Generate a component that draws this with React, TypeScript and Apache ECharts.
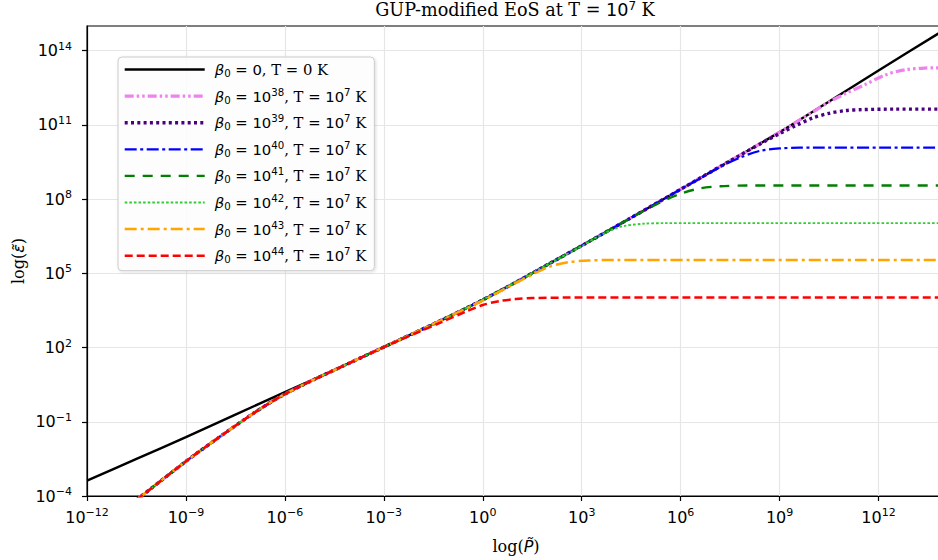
import React, { useEffect, useRef } from "react";
import * as echarts from "echarts";

// ---- axes (log10 exponents) ----
const xTickExps = [-12, -9, -6, -3, 0, 3, 6, 9, 12];
const yTickExps = [-4, -1, 2, 5, 8, 11, 14];
const xMin = -12;
const xMax = 14;
const yMin = -4;
const yMax = 15;

// ---- beta0 = 0, T = 0 K : log10(P~), log10(eps~) ----
const blackLogP = [-12, -10.5, -9, -7.5, -6, -4.5, -3, -2, -1, 0, 1, 2, 3, 4.5, 6, 7.5, 9, 10.5, 12, 14];
const blackLogE = [-3.38, -2.5, -1.62, -0.71, 0.2, 1.1, 2.02, 2.64, 3.27, 3.93, 4.64, 5.38, 6.12, 7.25, 8.4, 9.55, 10.71, 11.95, 13.2, 14.85];

// ---- common low-pressure branch of all GUP curves (T = 1e7 K) ----
const gupLowLogP = [-10.5, -9, -8, -7, -6.5, -6, -5.5, -5, -4];
const gupLowLogE = [-4.16, -2.6, -1.63, -0.7, -0.27, 0.12, 0.46, 0.78, 1.4];

// ---- GUP curves ----
const betaExps = [38, 39, 40, 41, 42, 43, 44];
// last point of the beta0=0 curve that each GUP curve still follows
const joinLogP = [9, 7.5, 6, 4.5, 2, -1, -3];

const beta38LogP = [10, 10.5, 11, 11.6, 12.2, 12.8, 13.4, 14];
const beta38LogE = [11.52, 11.93, 12.27, 12.64, 13.02, 13.23, 13.3, 13.31];
const beta39LogP = [8.5, 9.0, 9.5, 10, 10.5, 11, 11.5, 12.5, 14];
const beta39LogE = [10.3, 10.65, 10.98, 11.28, 11.47, 11.58, 11.62, 11.64, 11.64];
const beta40LogP = [6.6, 7.2, 7.8, 8.4, 9.0, 9.6, 14];
const beta40LogE = [8.84, 9.3, 9.68, 9.95, 10.05, 10.08, 10.08];
const beta41LogP = [5.4, 6.0, 6.6, 7.2, 8, 14];
const beta41LogE = [7.88, 8.22, 8.44, 8.52, 8.55, 8.55];
const beta42LogP = [3, 3.4, 3.7, 4, 4.3, 4.9, 5.5, 14];
const beta42LogE = [6.1, 6.42, 6.63, 6.8, 6.92, 7.01, 7.03, 7.03];
const beta43LogP = [0, 0.8, 1.4, 2, 2.6, 3.2, 4, 14];
const beta43LogE = [3.9, 4.47, 4.88, 5.26, 5.45, 5.52, 5.54, 5.54];
const beta44LogP = [-2, -1.3, -0.5, 0, 0.5, 1, 1.5, 2.5, 14];
const beta44LogE = [2.6, 3.0, 3.46, 3.72, 3.88, 3.96, 4.0, 4.02, 4.02];

const tailsP = [beta38LogP, beta39LogP, beta40LogP, beta41LogP, beta42LogP, beta43LogP, beta44LogP];
const tailsE = [beta38LogE, beta39LogE, beta40LogE, beta41LogE, beta42LogE, beta43LogE, beta44LogE];

// ---- styles (not data) ----
const lineStyles = [
  { color: "#000000", width: 2.4, type: "solid" as any },
  { color: "#EE82EE", width: 3.2, type: [9, 3, 2.5, 3, 2.5, 3] },
  { color: "#4B0082", width: 3.4, type: [3, 3.3] },
  { color: "#0000FF", width: 2.2, type: [12, 3.5, 3, 3.5] },
  { color: "#008000", width: 2.4, type: [10, 8] },
  { color: "#32CD32", width: 1.9, type: [2.6, 2] },
  { color: "#FFA500", width: 2.5, type: [12, 4, 3, 4] },
  { color: "#FF0000", width: 2.5, type: [8, 4] },
];

const SERIF = "DejaVu Serif";
const SANS = "DejaVu Sans";

const zip = (xs: number[], ys: number[]) => xs.map((x, i) => [x, ys[i]]);

function gupData(k: number) {
  const pts: number[][] = zip(gupLowLogP, gupLowLogE);
  blackLogP.forEach((p, i) => {
    if (p > gupLowLogP[gupLowLogP.length - 1] && p <= joinLogP[k]) pts.push([p, blackLogE[i]]);
  });
  return pts.concat(zip(tailsP[k], tailsE[k]));
}

const expStr = (v: number) => (v < 0 ? "\u2212" + Math.abs(v) : String(v));

const tickRich = {
  b: { fontFamily: SANS, fontSize: 16, lineHeight: 22, color: "#000" },
  e: { fontFamily: SANS, fontSize: 11, height: 13, verticalAlign: "top", color: "#000" },
};

const LF = 14.8;
const legendRich = {
  mi: { fontFamily: SANS, fontStyle: "italic", fontSize: LF, lineHeight: 20, color: "#000" },
  m: { fontFamily: SANS, fontSize: LF, lineHeight: 20, color: "#000" },
  s: { fontFamily: SERIF, fontSize: LF, lineHeight: 20, color: "#000" },
  sup: { fontFamily: SANS, fontSize: 10.2, height: 12, verticalAlign: "top", color: "#000" },
  sub: { fontFamily: SANS, fontSize: 10.2, height: 12, verticalAlign: "bottom", color: "#000" },
};

export default function App() {
  const ref = useRef<HTMLDivElement>(null);

  useEffect(() => {
    if (!ref.current) return;
    const chart = echarts.init(ref.current, undefined, { renderer: "svg" });

    const names = ["b0"].concat(betaExps.map((e) => "b" + e));
    const labels = ["{mi|β}{sub|0}{m| = 0}{s|, T = 0 K}"].concat(
      betaExps.map((e) => `{mi|β}{sub|0}{m| = 10}{sup|${e}}{s|, T = }{m|10}{sup|7}{s| K}`)
    );

    const allData = [zip(blackLogP, blackLogE)].concat(betaExps.map((_, k) => gupData(k)));

    const series = names.map((n, i) => ({
      name: n,
      type: "line",
      data: allData[i],
      showSymbol: false,
      symbol: "none",
      smooth: 0.3,
      clip: true,
      lineStyle: { color: lineStyles[i].color, width: lineStyles[i].width, type: lineStyles[i].type, cap: "butt" },
      itemStyle: { color: lineStyles[i].color },
      z: 2 + i * 0.01,
    }));

    const axisCommon = {
      type: "value",
      axisLine: { show: true, onZero: false, lineStyle: { color: "#000", width: 1.2 } },
      splitLine: { show: true, lineStyle: { color: "#e6e6e6", width: 1.2 } },
    };

    chart.setOption({
      animation: false,
      backgroundColor: "#ffffff",
      grid: {
        left: 87,
        top: 26,
        width: 857.5,
        height: 470,
        show: true,
        borderColor: "#000",
        borderWidth: 1.2,
        backgroundColor: "transparent",
      },
      xAxis: {
        ...axisCommon,
        min: xMin,
        max: xMax,
        axisTick: { show: true, customValues: xTickExps, length: 5, lineStyle: { color: "#000", width: 1.2 } },
        axisLabel: {
          customValues: xTickExps,
          margin: 10,
          formatter: (v: number) => `{b|10}{e|${expStr(Math.round(v))}}`,
          rich: tickRich,
        },
      },
      yAxis: {
        ...axisCommon,
        min: yMin,
        max: yMax,
        axisTick: { show: true, customValues: yTickExps, length: 5, lineStyle: { color: "#000", width: 1.2 } },
        axisLabel: {
          customValues: yTickExps,
          margin: 15,
          formatter: (v: number) => `{b|10}{e|${expStr(Math.round(v))}}`,
          rich: tickRich,
        },
      },
      legend: {
        orient: "vertical",
        left: 118,
        top: 57,
        itemWidth: 80,
        itemHeight: 14,
        itemGap: 8.6,
        padding: [5, 8, 6, 5],
        backgroundColor: "rgba(255,255,255,0.85)",
        borderColor: "#cccccc",
        borderWidth: 1,
        borderRadius: 4,
        shadowColor: "rgba(0,0,0,0.15)",
        shadowBlur: 3,
        shadowOffsetX: 1,
        shadowOffsetY: 1,
        selectedMode: false,
        itemStyle: { opacity: 0 },
        lineStyle: { width: "inherit" },
        textStyle: { padding: [0, 0, 0, 5], color: "#000", rich: legendRich },
        formatter: (name: string) => labels[names.indexOf(name)],
        data: names,
      },
      graphic: [
        {
          type: "text",
          x: 515,
          y: -1,
          style: {
            text: "{s|GUP-modified EoS at T = }{m|10}{p|7}{s| K}",
            align: "center",
            verticalAlign: "top",
            rich: {
              s: { fontFamily: SERIF, fontSize: 17.6, lineHeight: 22, fill: "#000", color: "#000" },
              m: { fontFamily: SANS, fontSize: 17.6, lineHeight: 22, fill: "#000", color: "#000" },
              p: { fontFamily: SANS, fontSize: 12, height: 14, verticalAlign: "top", fill: "#000", color: "#000" },
            },
          },
        },
        {
          type: "text",
          x: 516,
          y: 546,
          style: {
            text: "{s|log(}{i|P\u0303}{s|)}",
            align: "center",
            verticalAlign: "middle",
            rich: {
              s: { fontFamily: SERIF, fontSize: 16, lineHeight: 22, fill: "#000", color: "#000" },
              i: { fontFamily: SANS, fontStyle: "italic", fontSize: 16, lineHeight: 22, fill: "#000", color: "#000" },
            },
          },
        },
        {
          type: "text",
          x: 18,
          y: 261,
          rotation: Math.PI / 2,
          style: {
            text: "{s|log(}{i|\u03b5\u0303}{s|)}",
            align: "center",
            verticalAlign: "middle",
            rich: {
              s: { fontFamily: SERIF, fontSize: 16, lineHeight: 22, fill: "#000", color: "#000" },
              i: { fontFamily: SANS, fontStyle: "italic", fontSize: 16, lineHeight: 22, fill: "#000", color: "#000" },
            },
          },
        },
      ],
      series,
    });

    return () => chart.dispose();
  }, []);

  return (
    <div style={{ position: "fixed", left: 0, top: 0, width: 938, height: 560, overflow: "hidden", background: "#fff" }}>
      <div ref={ref} style={{ width: 950, height: 560 }} />
    </div>
  );
}
